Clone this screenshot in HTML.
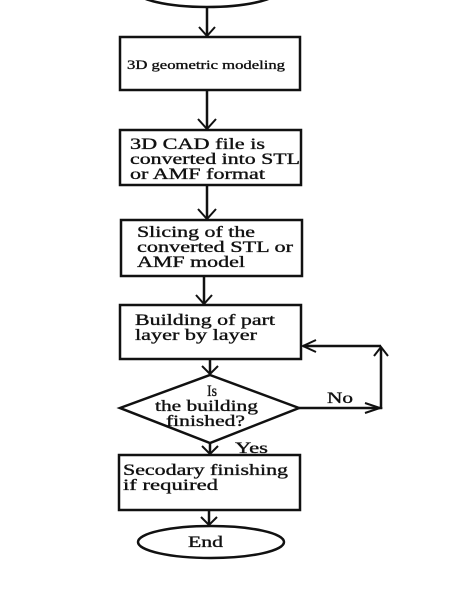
<!DOCTYPE html>
<html><head><style>
body{margin:0;background:#fff;}
svg text{font-family:"Liberation Serif",serif;fill:#111;stroke:#111;stroke-width:0.35;}
</style></head><body>
<svg width="470" height="584" viewBox="0 0 470 584" xmlns="http://www.w3.org/2000/svg">
<g stroke="#111" stroke-width="2.5" fill="none">
<ellipse cx="207" cy="-10" rx="72" ry="17"/>
<rect x="120" y="37" width="180" height="53"/>
<rect x="120" y="130" width="181" height="55"/>
<rect x="121" y="220" width="181" height="56"/>
<rect x="120" y="305" width="181" height="54"/>
<polygon points="210,375 299,408 210,443 120,408"/>
<rect x="119" y="455" width="181" height="55"/>
<ellipse cx="211" cy="542" rx="73" ry="16"/>
<line x1="207" y1="7" x2="207" y2="36"/>
<line x1="207" y1="90" x2="207" y2="129"/>
<line x1="207" y1="185" x2="207" y2="219"/>
<line x1="204" y1="276" x2="204" y2="304"/>
<line x1="210" y1="359" x2="210" y2="374"/>
<line x1="210" y1="443" x2="210" y2="454"/>
<line x1="209" y1="510" x2="209" y2="525"/>
<polyline points="299,408 381,408 381,347"/>
<line x1="381" y1="346" x2="303" y2="346"/>
</g>
<g stroke="#111" stroke-width="2" fill="none">
<polyline points="199,27 207,36 215,27"/>
<polyline points="198,119 207,129 216,119"/>
<polyline points="198,209 207,219 216,209"/>
<polyline points="196,295 204,304 212,295"/>
<polyline points="202,366 210,374 218,366"/>
<polyline points="202,446 210,454 218,446"/>
<polyline points="201,517 209,525 217,517"/>
<polyline points="365,403 380,408 365,413"/>
<polyline points="374,356 381,347 388,356"/>
<polyline points="316,340 303,346 316,352"/>
</g>
<text x="127" y="69" font-size="13" textLength="158" lengthAdjust="spacingAndGlyphs">3D geometric modeling</text>
<g font-size="16" lengthAdjust="spacingAndGlyphs">
<text x="130" y="149" textLength="135" lengthAdjust="spacingAndGlyphs">3D CAD file is</text>
<text x="130" y="164" textLength="170" lengthAdjust="spacingAndGlyphs">converted into STL</text>
<text x="130" y="179" textLength="135" lengthAdjust="spacingAndGlyphs">or AMF format</text>
<text x="137" y="237" textLength="118" lengthAdjust="spacingAndGlyphs">Slicing of the</text>
<text x="137" y="252" textLength="156" lengthAdjust="spacingAndGlyphs">converted STL or</text>
<text x="137" y="267" textLength="108" lengthAdjust="spacingAndGlyphs">AMF model</text>
<text x="135" y="325" textLength="140" lengthAdjust="spacingAndGlyphs">Building of part</text>
<text x="135" y="340" textLength="122" lengthAdjust="spacingAndGlyphs">layer by layer</text>
<text x="207" y="396" textLength="10" lengthAdjust="spacingAndGlyphs">Is</text>
<text x="155" y="411" textLength="103" lengthAdjust="spacingAndGlyphs">the building</text>
<text x="166" y="426" textLength="79" lengthAdjust="spacingAndGlyphs">finished?</text>
<text x="327" y="403" textLength="26" lengthAdjust="spacingAndGlyphs">No</text>
<text x="235" y="453" textLength="33" lengthAdjust="spacingAndGlyphs">Yes</text>
<text x="123" y="475" textLength="165" lengthAdjust="spacingAndGlyphs">Secodary finishing</text>
<text x="123" y="490" textLength="95" lengthAdjust="spacingAndGlyphs">if required</text>
<text x="188" y="547" textLength="35" lengthAdjust="spacingAndGlyphs">End</text>
</g>
</svg>
</body></html>
